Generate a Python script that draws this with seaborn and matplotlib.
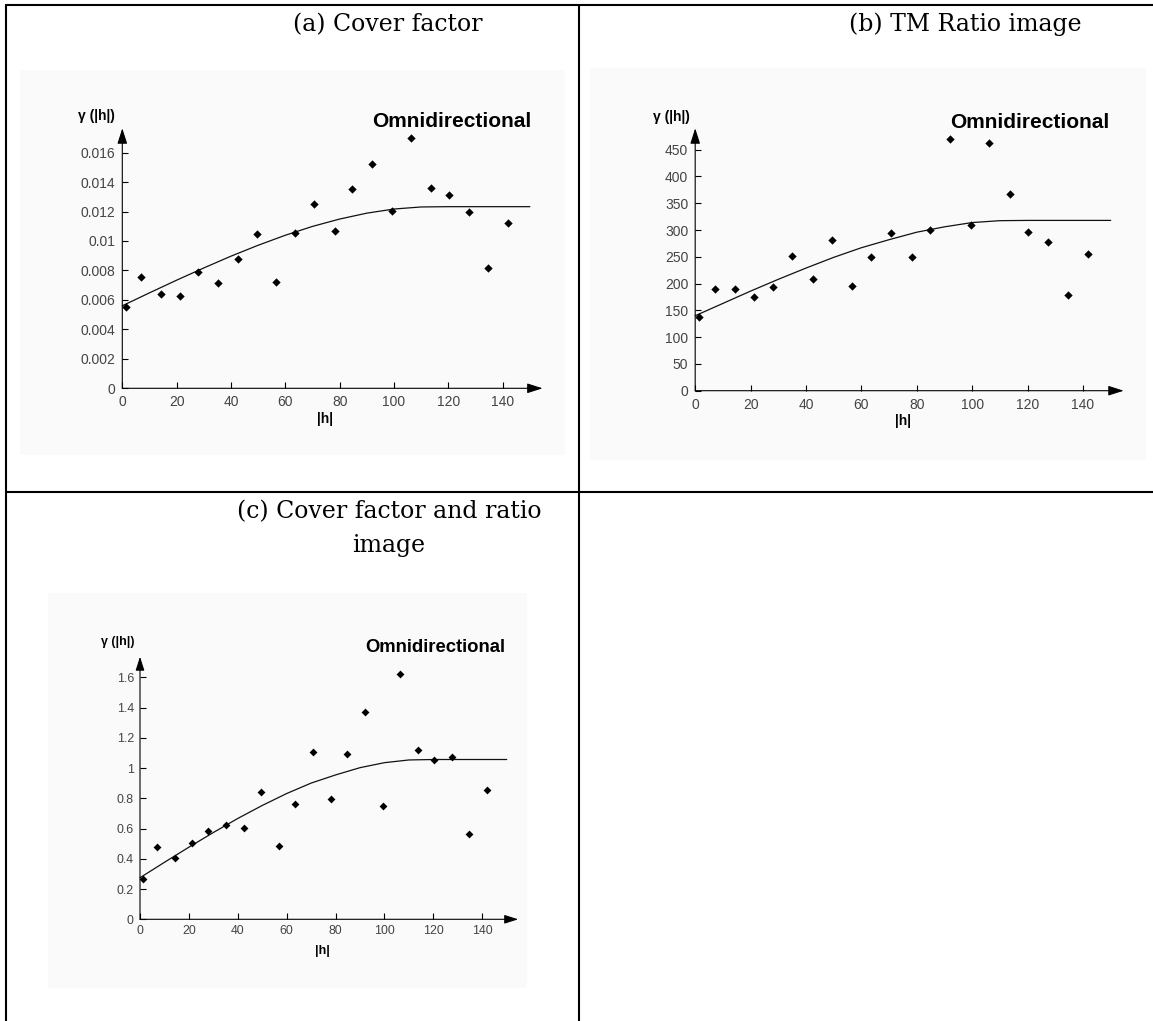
import matplotlib
matplotlib.use("Agg")
import matplotlib.pyplot as plt
import seaborn as sns
import pandas as pd
from matplotlib.lines import Line2D
from matplotlib.patches import Rectangle
from matplotlib.ticker import FixedLocator, FuncFormatter

# ---------------- data ----------------
lag_h = [1.2, 7.0, 14.2, 21.4, 28.0, 35.1, 42.6, 49.4, 56.7, 63.5, 70.7,
         78.2, 84.7, 91.9, 99.4, 106.2, 113.8, 120.2, 127.5, 134.6, 141.8]

gamma_cover = [0.00554, 0.00758, 0.00638, 0.00627, 0.00792, 0.00717, 0.00878,
               0.01048, 0.00724, 0.01052, 0.01252, 0.01070, 0.01351, 0.01521,
               0.01204, 0.01700, 0.01358, 0.01310, 0.01197, 0.00819, 0.01125]
gamma_ratio = [137.6, 189.2, 190.5, 175.5, 194.2, 250.8, 209.1, 280.7, 196.1,
               249.6, 294.4, 249.6, 300.6, 470.5, 309.3, 462.5, 367.2, 295.7,
               277.6, 179.3, 255.8]
gamma_combined = [0.267, 0.480, 0.403, 0.505, 0.584, 0.624, 0.606, 0.840, 0.487,
                  0.762, 1.104, 0.793, 1.093, 1.373, 0.749, 1.620, 1.122, 1.056,
                  1.075, 0.564, 0.853]

# fitted model curves, every 10 units of |h|
model_h = [0, 10, 20, 30, 40, 50, 60, 70, 80, 90, 100, 110, 120, 130, 140, 150]
model_cover = [0.00560, 0.00648, 0.00734, 0.00817, 0.00897, 0.00971, 0.01039,
               0.01099, 0.01149, 0.01189, 0.01217, 0.01231, 0.01233, 0.01233,
               0.01233, 0.01233]
model_ratio = [140, 163, 186, 208, 229, 249, 267, 282, 296, 306, 314, 317.5,
               318, 318, 318, 318]
model_combined = [0.275, 0.377, 0.477, 0.574, 0.667, 0.753, 0.832, 0.901, 0.955,
                  1.003, 1.036, 1.054, 1.057, 1.057, 1.057, 1.057]

titles = ["(a) Cover factor", "(b) TM Ratio image",
          "(c) Cover factor and ratio\nimage"]
xticks = [0, 20, 40, 60, 80, 100, 120, 140]
yticks_cover = [0, 0.002, 0.004, 0.006, 0.008, 0.01, 0.012, 0.014, 0.016]
yticks_ratio = [0, 50, 100, 150, 200, 250, 300, 350, 400, 450]
yticks_combined = [0, 0.2, 0.4, 0.6, 0.8, 1, 1.2, 1.4, 1.6]
direction_label = "Omnidirectional"
y_label = "γ (|h|)"
x_label = "|h|"

# ---------------- styling ----------------
sns.set_style("white")
plt.rcParams["font.family"] = ["Liberation Sans", "DejaVu Sans"]
plt.rcParams["text.color"] = "black"

W, H = 1153, 1021
fig = plt.figure(figsize=(W / 100, H / 100), dpi=100, facecolor="white")


def fx(px):
    return px / W


def fy(py):
    return 1 - py / H


BG = "#fafafa"

# layout in pixels: axes (left, top, right, bottom), background rect, text anchors
layouts = [
    dict(axes=(122.3, 128.3, 542.6, 388.3), ytop=0.01765, bg=(20, 70, 565, 455),
         title=(388, 31), omni=(372, 127), ylab=(96, 116), xlab=(325.5, 419), k=1.0),
    dict(axes=(695.2, 128.3, 1123.7, 390.7), ytop=490, bg=(590, 68, 1146, 460),
         title=(965.5, 31), omni=(950, 128), ylab=(671.5, 116.7), xlab=(902.5, 421), k=1.0),
    dict(axes=(140, 656.7, 518.2, 919.3), ytop=1.737, bg=(48, 593, 527, 988),
         title=(389, 552), omni=(365, 652), ylab=(117.5, 642), xlab=(322.7, 951), k=0.89),
]

series = [
    (gamma_cover, model_cover, yticks_cover),
    (gamma_ratio, model_ratio, yticks_ratio),
    (gamma_combined, model_combined, yticks_combined),
]

for i, (lay, (g, m, yt), title) in enumerate(zip(layouts, series, titles)):
    k = lay["k"]
    bx0, by0, bx1, by1 = lay["bg"]
    fig.patches.append(Rectangle((fx(bx0), fy(by1)), fx(bx1) - fx(bx0), fy(by0) - fy(by1),
                                 transform=fig.transFigure, facecolor=BG,
                                 edgecolor="none", zorder=-5))
    l, t, r, b = lay["axes"]
    ax = fig.add_axes([fx(l), fy(b), fx(r) - fx(l), fy(t) - fy(b)])
    ax.set_zorder(2)
    ax.patch.set_alpha(0)
    for s in ax.spines.values():
        s.set_visible(False)

    df_pts = pd.DataFrame({"h": lag_h, "gamma": g})
    df_mod = pd.DataFrame({"h": model_h, "gamma": m})
    sns.lineplot(data=df_mod, x="h", y="gamma", ax=ax, color="#111111",
                 linewidth=0.9, clip_on=False)
    sns.scatterplot(data=df_pts, x="h", y="gamma", ax=ax, color="black",
                    marker="D", s=18 * k, linewidth=0, clip_on=False, zorder=5)

    ax.set_xlim(0, 154.7)
    ax.set_ylim(0, lay["ytop"])
    ax.xaxis.set_major_locator(FixedLocator(xticks))
    ax.yaxis.set_major_locator(FixedLocator(yt))
    fmt = FuncFormatter(lambda v, p: f"{v:g}")
    ax.xaxis.set_major_formatter(fmt)
    ax.yaxis.set_major_formatter(fmt)
    ax.tick_params(axis="both", direction="in", length=4.3, width=0.8,
                   color="black", labelcolor="#444444", labelsize=10 * k,
                   pad=5 * k, bottom=True, left=True, top=False, right=False)
    ax.set_xlabel("")
    ax.set_ylabel("")

    arrow = dict(arrowstyle="-|>,head_length=0.94,head_width=0.3",
                 color="black", lw=0.8, shrinkA=0, shrinkB=0, mutation_scale=10 * k)
    ax.annotate("", xy=(1, 0), xycoords="axes fraction", xytext=(0, 0),
                textcoords="axes fraction", arrowprops=arrow)
    ax.annotate("", xy=(0, 1), xycoords="axes fraction", xytext=(0, 0),
                textcoords="axes fraction", arrowprops=arrow)

    fig.text(fx(lay["omni"][0]), fy(lay["omni"][1]), direction_label,
             ha="left", va="baseline", fontsize=15 * k, fontweight="bold",
             color="black")
    fig.text(fx(lay["ylab"][0]), fy(lay["ylab"][1]), y_label,
             ha="center", va="center", fontsize=10 * k, fontweight="bold",
             color="black")
    fig.text(fx(lay["xlab"][0]), fy(lay["xlab"][1]), x_label,
             ha="center", va="center", fontsize=10 * k, fontweight="bold",
             color="black")
    fig.text(fx(lay["title"][0]), fy(lay["title"][1]), title,
             ha="center", va="baseline", multialignment="center",
             fontsize=17, family=["DejaVu Serif"], linespacing=1.6, color="black")

# table borders
lw_tab = 1.5
for xs, ys in [((6, 6), (5, 1021)), ((579, 579), (5, 1021)),
               ((6, 1153), (5, 5)), ((6, 1153), (492, 492))]:
    fig.add_artist(Line2D([fx(xs[0]), fx(xs[1])], [fy(ys[0]), fy(ys[1])],
                          transform=fig.transFigure, color="black", lw=lw_tab))

fig.savefig("out.png", dpi=100, facecolor="white")
